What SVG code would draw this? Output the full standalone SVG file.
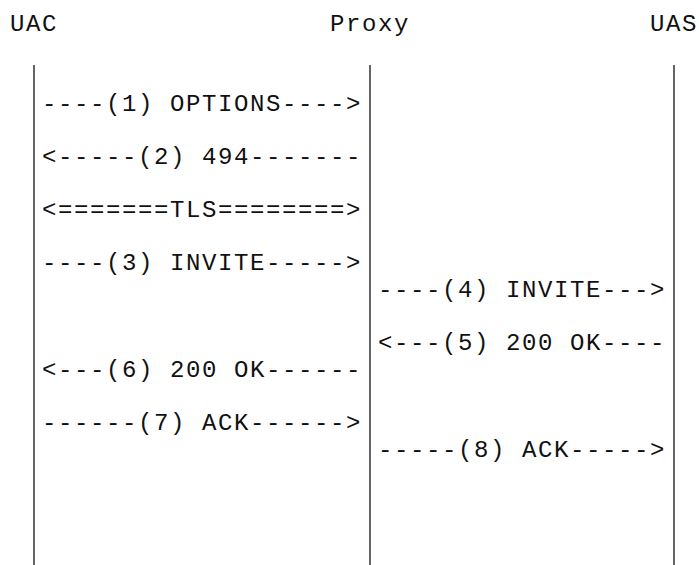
<svg xmlns="http://www.w3.org/2000/svg" width="699" height="565" viewBox="0 0 699 565">
<style>
  text { font-family: "Liberation Mono", "Courier New", monospace; font-size: 24px; letter-spacing: 1.6px; fill: #111; white-space: pre; }
  .life { stroke: #333; stroke-width: 1.5; fill: none; }
</style>
<rect width="699" height="565" fill="#fff"/>
<g id="node-uac">
  <text x="10" y="31">UAC</text>
  <line class="life" x1="34" y1="65" x2="34" y2="565"/>
</g>
<g id="node-proxy">
  <text x="330" y="31">Proxy</text>
  <line class="life" x1="370" y1="65" x2="370" y2="565"/>
</g>
<g id="node-uas">
  <text x="650" y="31">UAS</text>
  <line class="life" x1="674" y1="65" x2="674" y2="565"/>
</g>
<g id="connectors">
  <text x="42" y="110.8">----(1) OPTIONS----&gt;</text>
  <text x="42" y="164">&lt;-----(2) 494-------</text>
  <text x="42" y="217.2">&lt;=======TLS========&gt;</text>
  <text x="42" y="270.4">----(3) INVITE-----&gt;</text>
  <text x="378" y="297">----(4) INVITE---&gt;</text>
  <text x="378" y="350.2">&lt;---(5) 200 OK----</text>
  <text x="42" y="376.8">&lt;---(6) 200 OK------</text>
  <text x="42" y="430">------(7) ACK------&gt;</text>
  <text x="378" y="456.6">-----(8) ACK-----&gt;</text>
</g>
</svg>
